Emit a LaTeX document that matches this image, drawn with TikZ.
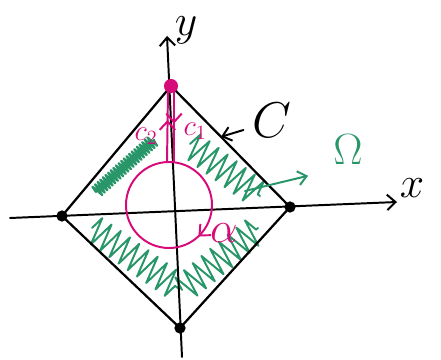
\documentclass[tikz,border=0pt]{standalone}
\usetikzlibrary{positioning,arrows.meta,calc,decorations.pathmorphing,decorations.markings}
\definecolor{SketchPink}{RGB}{214,10,120}
\definecolor{SketchGreen}{RGB}{40,150,105}

\begin{document}
\begin{tikzpicture}[x=0.025cm, y=-0.025cm, line cap=round, line join=round]
\tikzset{
  biglab/.style={font=\Huge, scale=1.25, transform shape},
  smalllab/.style={font=\huge, SketchPink},
  axis/.style={-{Straight Barb[length=6pt,width=11pt]}, line width=1.4pt, black},
  edge/.style={line width=1.6pt, black},
  vdot/.style={circle, fill=black, inner sep=0pt, minimum size=8pt},
  topdot/.style={circle, fill=SketchPink, inner sep=0pt, minimum size=10pt},
  hatch/.style={SketchGreen, line width=1.4pt, decorate, decoration={zigzag, segment length=8pt, amplitude=10pt}},
  scribble/.style={SketchGreen, line width=1.6pt, decorate, decoration={zigzag, segment length=2.5pt, amplitude=4.5pt}},
  cut/.style={SketchPink, line width=1.4pt},
  midup/.style={postaction={decorate}, decoration={markings, mark=at position #1 with {\arrow{Straight Barb[length=6pt,width=11pt]}}}},
  arr/.style={-{Straight Barb[length=6pt,width=10pt]}, line width=1.4pt}
}
\useasboundingbox (0,0) rectangle (441,360);
  % corners of the contour
  \coordinate (t) at (171,86);
  \coordinate (l) at (62,216);
  \coordinate (r) at (290,207);
  \coordinate (b) at (180,328);
  \coordinate (o) at (169,205);

  % hatched region
  \draw[scribble] (96,192) -- (154,140);
  \draw[hatch] (190,144) -- (260,196);
  \draw[hatch] (92,228) -- (178,288);
  \draw[hatch] (182,290) -- (258,228);

  % axes
  \coordinate (xs) at (10,218);
  \coordinate (xe) at (397,202);
  \coordinate (ys) at (182,357);
  \coordinate (ye) at (167,36);
  \draw[axis] (xs) -- (xe);
  \draw[axis] (ys) -- (ye);
  \node[biglab] (xlab) at (412,188) {$x$};
  \node[biglab] (ylab) at (186,30) {$y$};

  % contour C
  \draw[edge] (t) -- (r) -- (b) -- (l) -- cycle;
  \node[vdot] (left) at (l) {};
  \node[vdot] (right) at (r) {};
  \node[vdot] (bottom) at (b) {};

  % small circle and the cut
  \draw[cut, midup=0.13] (o) circle[radius=43];
  \coordinate (c2s) at (167,162);
  \coordinate (c2e) at (168,92);
  \coordinate (c1s) at (174,92);
  \coordinate (c1e) at (174,162);
  \draw[cut, midup=0.6] (c2s) -- (c2e);
  \draw[cut, midup=0.45] (c1s) -- (c1e);
  \node[topdot] (top) at (t) {};
  \node[smalllab] (c2) at (146,136) {$c_2$};
  \node[smalllab] (c1) at (195,131) {$c_1$};
  \node[biglab, SketchPink] (alpha) at (224,233) {$\alpha$};

  % labels
  \node[biglab, scale=1.15] (clab) at (272,120) {$C$};
  \draw[arr] ($(clab.west)+(-2,10)$) -- ($(t)!0.42!(r)$);
  \node[biglab, SketchGreen] (omega) at (348,150) {$\Omega$};
  \coordinate (os) at (245,191);
  \draw[arr, SketchGreen, shorten >=14pt] (os) -- (omega.south west);
\end{tikzpicture}
\end{document}
